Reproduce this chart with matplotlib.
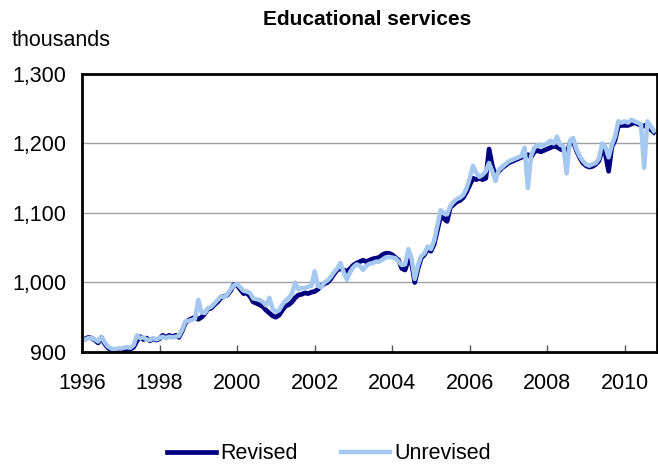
import numpy as np
import matplotlib.pyplot as plt

plt.rcParams['font.family'] = ['Liberation Sans', 'DejaVu Sans']

# monthly employment, thousands, Jan 1996 - Oct 2010
revised = [
    917, 919, 921, 920, 917, 913, 921, 912, 906, 903, 901, 900,          # 1996
    900, 901, 903, 904, 907, 916, 922, 918, 920, 916, 919, 917,          # 1997
    919, 924, 921, 924, 922, 924, 921, 930, 942, 946, 948, 950,          # 1998
    947, 950, 955, 962, 963, 968, 972, 978, 980, 982, 988, 997,          # 1999
    996, 990, 984, 985, 980, 972, 970, 968, 965, 960, 956, 952,          # 2000
    950, 953, 960, 966, 968, 972, 978, 982, 983, 985, 984, 986,          # 2001
    987, 990, 995, 998, 1000, 1005, 1012, 1018, 1020, 1018, 1016, 1020,  # 2002
    1025, 1028, 1030, 1032, 1030, 1032, 1034, 1035, 1036, 1040, 1042, 1042,  # 2003
    1040, 1036, 1032, 1020, 1018, 1032, 1028, 1000, 1020, 1035, 1040, 1048,  # 2004
    1045, 1055, 1075, 1095, 1092, 1088, 1108, 1112, 1116, 1118, 1122, 1130,  # 2005
    1140, 1150, 1148, 1150, 1148, 1150, 1192, 1168, 1152, 1160, 1165, 1168,  # 2006
    1172, 1174, 1176, 1178, 1180, 1182, 1184, 1180, 1188, 1190, 1188, 1190,  # 2007
    1192, 1194, 1196, 1195, 1192, 1190, 1185, 1200, 1204, 1190, 1180, 1172,  # 2008
    1168, 1166, 1167, 1170, 1175, 1190, 1185, 1160, 1195, 1205, 1225, 1226,  # 2009
    1226, 1226, 1228, 1230, 1228, 1226, 1225, 1228, 1220, 1216,              # 2010
]
unrevised = [
    916, 918, 920, 920, 918, 915, 922, 914, 908, 905, 904, 905,
    905, 906, 907, 906, 910, 924, 920, 921, 918, 917, 920, 918,
    920, 922, 920, 922, 921, 922, 923, 932, 944, 945, 946, 948,
    975, 957, 956, 963, 965, 970, 975, 980, 979, 983, 990, 996,
    998, 993, 988, 987, 985, 977, 976, 975, 972, 967, 978, 962,
    958, 960, 968, 974, 978, 984, 1000, 990, 992, 992, 994, 995,
    1016, 995, 993, 1000, 1003, 1008, 1015, 1020, 1028, 1015, 1004, 1015,
    1022, 1026, 1024, 1018, 1024, 1027, 1028, 1030, 1030, 1033, 1036, 1037,
    1036, 1035, 1030, 1025, 1026, 1048, 1035, 1005, 1025, 1038, 1042, 1052,
    1048, 1060, 1082, 1104, 1100, 1098, 1110, 1116, 1120, 1122, 1126, 1135,
    1150, 1168, 1158, 1152, 1155, 1160, 1172, 1160, 1146, 1162, 1166, 1170,
    1174, 1176, 1178, 1180, 1182, 1194, 1136, 1182, 1194, 1198, 1196, 1198,
    1200, 1204, 1200, 1210, 1198, 1196, 1157, 1204, 1208, 1192, 1182, 1175,
    1170, 1168, 1170, 1172, 1178, 1200, 1195, 1180, 1198, 1210, 1232, 1230,
    1232, 1230, 1234, 1232, 1230, 1228, 1165, 1232, 1225, 1218,
]
years = [1996, 1998, 2000, 2002, 2004, 2006, 2008, 2010]
y_ticks = [900, 1000, 1100, 1200, 1300]

t = 1996 + np.arange(len(revised)) / 12
fs = 15.5

fig = plt.figure(figsize=(6.58, 4.68), dpi=100)
ax = fig.add_axes([0.1246, 0.2479, 0.874, 0.594])

ax.plot(t, revised, color='#000080', lw=3.4, label='Revised', solid_joinstyle='round')
ax.plot(t, unrevised, color='#A4C8F0', lw=3.2, label='Unrevised', solid_joinstyle='round')

ax.set_xlim(1996, 1996 + 178 / 12)
ax.set_ylim(900, 1300)
ax.set_yticks(y_ticks)
ax.set_yticklabels([f'{v:,}' for v in y_ticks])
ax.set_xticks(years)
ax.set_xticklabels([str(y) for y in years])
ax.tick_params(axis='y', length=0, pad=11.5, labelsize=fs)
ax.tick_params(axis='x', direction='in', length=5, width=1, color='#555555', pad=15, labelsize=fs)
ax.yaxis.grid(True, color='#A0A0A0', lw=1)
ax.set_axisbelow(True)
for s in ax.spines.values():
    s.set_linewidth(2)
    s.set_color('black')

fig.text(0.558, 0.958, 'Educational services', ha='center', va='center',
         fontsize=15, fontweight='bold')
fig.text(0.018, 0.913, 'thousands', ha='left', va='center', fontsize=fs)

fig.legend(loc='center', bbox_to_anchor=(0.5, 0.03), ncol=2, frameon=False,
           fontsize=fs, handlelength=2.3, handletextpad=0.2, columnspacing=2.0)

fig.savefig('out.png', dpi=100)
